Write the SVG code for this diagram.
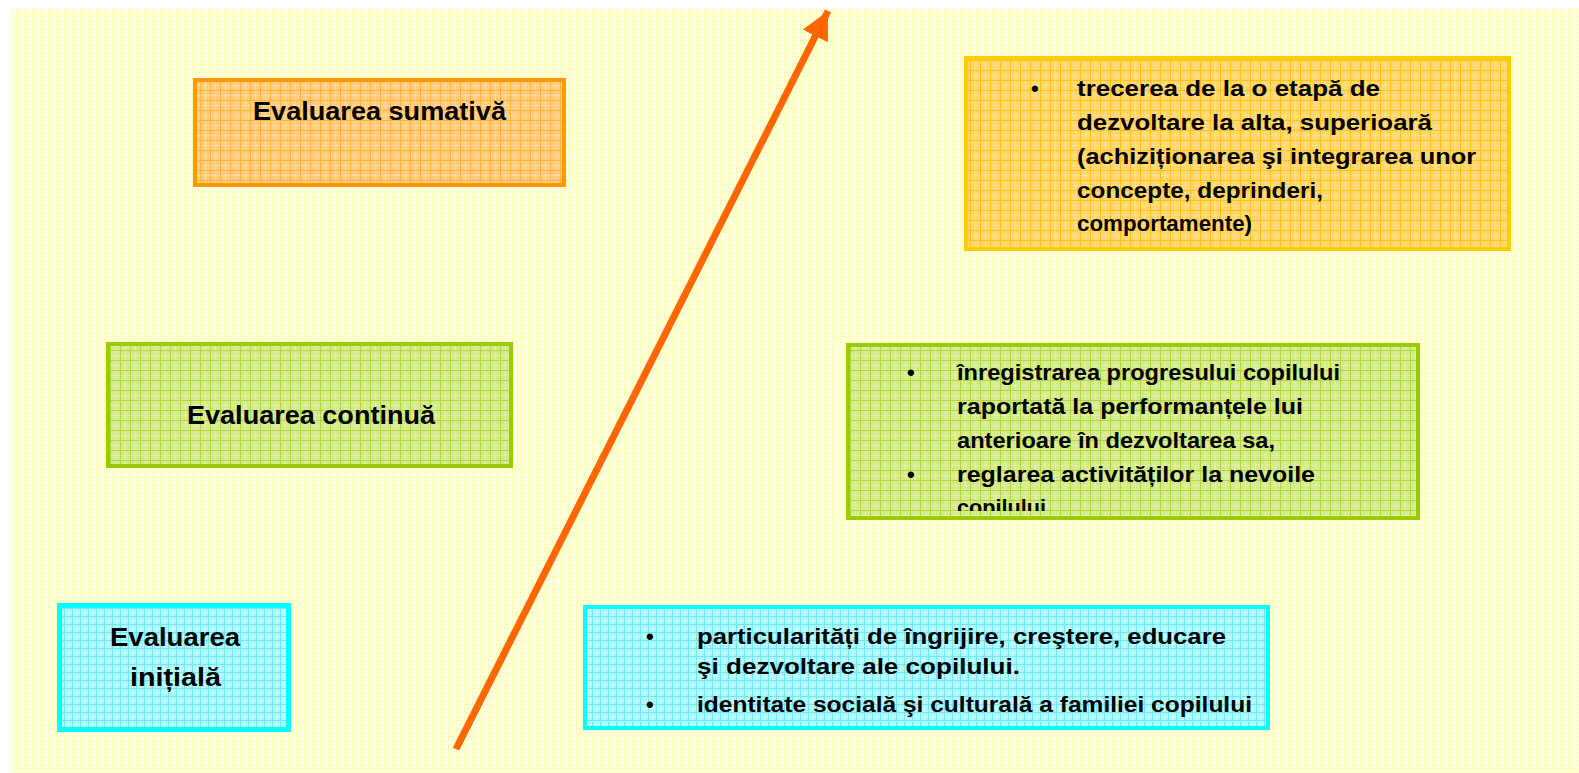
<svg xmlns="http://www.w3.org/2000/svg" width="1579" height="773" viewBox="0 0 1579 773">
<style>
.lbl{font-family:"Liberation Sans","DejaVu Sans",sans-serif;font-weight:bold;fill:#000;}
.big{font-size:25px;}
.txt{font-size:22px;}
</style>
<defs>
<pattern id="pBg" width="8" height="8" patternUnits="userSpaceOnUse">
<rect width="8" height="8" fill="#FFFFE2"/>
<path d="M0 0.5H8M0.5 0V8" stroke="#FFFFB0" stroke-width="1"/>
<path d="M0 4.5H8M4.5 0V8" stroke="#FFFFCC" stroke-width="1"/>
</pattern>
<pattern id="pOr" width="10" height="10" patternUnits="userSpaceOnUse">
<rect width="10" height="10" fill="#FFCC80"/>
<path d="M0 5.5H10M5.5 0V10" stroke="#FFDA9E" stroke-width="1"/>
<path d="M0 0.5H10M0.5 0V10" stroke="#FFB340" stroke-width="1"/>
</pattern>
<pattern id="pGo" width="10" height="10" patternUnits="userSpaceOnUse">
<rect width="10" height="10" fill="#FFD670"/>
<path d="M0 5.5H10M5.5 0V10" stroke="#FFE08C" stroke-width="1"/>
<path d="M0 0.5H10M0.5 0V10" stroke="#FFC21A" stroke-width="1"/>
</pattern>
<pattern id="pGr" width="10" height="10" patternUnits="userSpaceOnUse">
<rect width="10" height="10" fill="#D4EA8C"/>
<path d="M0 5.5H10M5.5 0V10" stroke="#E0F0A8" stroke-width="1"/>
<path d="M0 0.5H10M0.5 0V10" stroke="#B0D640" stroke-width="1"/>
</pattern>
<pattern id="pCy" width="8" height="8" patternUnits="userSpaceOnUse">
<rect width="8" height="8" fill="#A8FCFF"/>
<path d="M0 4.5H8M4.5 0V8" stroke="#C8FFFF" stroke-width="1"/>
<path d="M0 0.5H8M0.5 0V8" stroke="#70E8F8" stroke-width="1"/>
</pattern>
<marker id="ah" markerUnits="userSpaceOnUse" markerWidth="30" markerHeight="30" refX="28" refY="14" orient="auto">
<path d="M0 0L28 14L0 28z" fill="#FF6600"/>
</marker>
<clipPath id="clipMid"><rect x="850" y="347" width="566" height="164"/></clipPath>
</defs>

<rect x="12" y="9" width="1567" height="764" fill="url(#pBg)"/>

<g id="connectors">
<line x1="456" y1="749" x2="828" y2="11" stroke="#FF6600" stroke-width="7" marker-end="url(#ah)"/>
</g>

<g id="node-sumativa">
<rect x="195" y="80" width="369" height="105" fill="url(#pOr)" stroke="#FF9900" stroke-width="4"/>
<text class="lbl big" x="253" y="120" textLength="253" lengthAdjust="spacingAndGlyphs">Evaluarea sumativă</text>
</g>

<g id="node-sumativa-desc">
<rect x="966" y="58" width="543" height="191" fill="url(#pGo)" stroke="#FFCC00" stroke-width="4"/>
<text class="lbl txt" x="1031" y="96">•</text>
<text class="lbl txt" x="1077" y="96" textLength="303" lengthAdjust="spacingAndGlyphs">trecerea de la o etapă de</text>
<text class="lbl txt" x="1077" y="130" textLength="355" lengthAdjust="spacingAndGlyphs">dezvoltare la alta, superioară</text>
<text class="lbl txt" x="1077" y="164" textLength="399" lengthAdjust="spacingAndGlyphs">(achiziționarea şi integrarea unor</text>
<text class="lbl txt" x="1077" y="198" textLength="246" lengthAdjust="spacingAndGlyphs">concepte, deprinderi,</text>
<text class="lbl txt" x="1077" y="231" textLength="175" lengthAdjust="spacingAndGlyphs">comportamente)</text>
</g>

<g id="node-continua">
<rect x="108" y="344" width="403" height="122" fill="url(#pGr)" stroke="#99CC00" stroke-width="4"/>
<text class="lbl big" x="187" y="424" textLength="248" lengthAdjust="spacingAndGlyphs">Evaluarea continuă</text>
</g>

<g id="node-continua-desc">
<rect x="848" y="345" width="570" height="173" fill="url(#pGr)" stroke="#99CC00" stroke-width="4"/>
<g clip-path="url(#clipMid)">
<text class="lbl txt" x="907" y="380">•</text>
<text class="lbl txt" x="957" y="380" textLength="383" lengthAdjust="spacingAndGlyphs">înregistrarea progresului copilului</text>
<text class="lbl txt" x="957" y="414" textLength="346" lengthAdjust="spacingAndGlyphs">raportată la performanțele lui</text>
<text class="lbl txt" x="957" y="448" textLength="318" lengthAdjust="spacingAndGlyphs">anterioare în dezvoltarea sa,</text>
<text class="lbl txt" x="907" y="482">•</text>
<text class="lbl txt" x="957" y="482" textLength="358" lengthAdjust="spacingAndGlyphs">reglarea activităților la nevoile</text>
<text class="lbl txt" x="957" y="515" textLength="89" lengthAdjust="spacingAndGlyphs">copilului</text>
</g>
</g>

<g id="node-initiala">
<rect x="59.5" y="605.5" width="229" height="124" fill="url(#pCy)" stroke="#00FFFF" stroke-width="5"/>
<text class="lbl big" x="110" y="646" textLength="130" lengthAdjust="spacingAndGlyphs">Evaluarea</text>
<text class="lbl big" x="130" y="686" textLength="91" lengthAdjust="spacingAndGlyphs">inițială</text>
</g>

<g id="node-initiala-desc">
<rect x="585" y="607" width="683" height="121" fill="url(#pCy)" stroke="#00FFFF" stroke-width="4"/>
<text class="lbl txt" x="646" y="644">•</text>
<text class="lbl txt" x="697" y="644" textLength="529" lengthAdjust="spacingAndGlyphs">particularități de îngrijire, creştere, educare</text>
<text class="lbl txt" x="697" y="674" textLength="323" lengthAdjust="spacingAndGlyphs">şi dezvoltare ale copilului.</text>
<text class="lbl txt" x="646" y="712">•</text>
<text class="lbl txt" x="697" y="712" textLength="555" lengthAdjust="spacingAndGlyphs">identitate socială şi culturală a familiei copilului</text>
</g>
</svg>
